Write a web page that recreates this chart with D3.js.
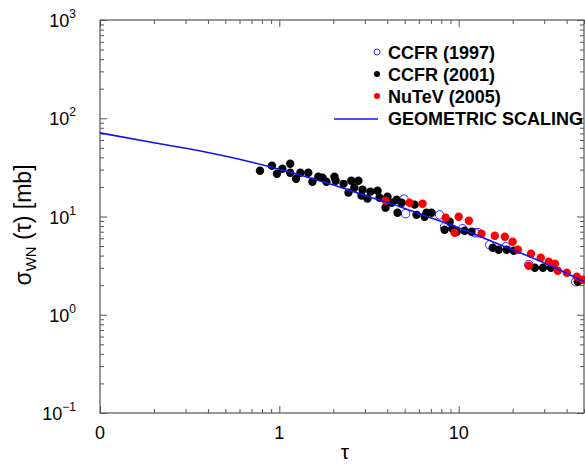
<!DOCTYPE html>
<html><head><meta charset="utf-8">
<script src="https://cdn.jsdelivr.net/npm/d3@7"></script>
<style>body{margin:0;background:#fff}svg{display:block}</style>
</head><body>
<svg id="c" width="585" height="468"></svg>
<script>
// ---- data ----
const ccfr2001Tau = [0.78,0.91,0.97,1.04,1.15,1.15,1.24,1.31,1.45,1.53,1.65,1.74,1.83,2.03,2.06,2.28,2.43,2.52,2.62,2.76,2.91,2.87,3.10,3.22,3.53,3.62,3.91,4.01,4.23,4.51,4.56,4.81,5.68,5.82,6.46,6.62,7.06,8.35,8.91,9.25,9.75,10.8,11.8,15.5,16.7,18.5,20.3,26.6,29.5,32.7,46.2];
const ccfr2001Sigma = [29.2,32.9,27.2,30.6,34.4,27.9,24.2,27.9,27.9,22.6,25.4,24.8,22.6,25.4,23.1,21.5,17.5,23.1,19.6,23.1,18.7,16.3,15.2,17.9,18.3,15.5,12.3,15.9,13.8,14.8,10.9,13.8,13.2,10.4,9.94,10.9,10.9,7.33,8.85,7.50,7.00,7.16,7.00,4.81,4.59,4.59,4.48,3.01,3.01,3.01,2.17];
const nutevTau = [3.91,5.32,6.29,8.46,10.0,11.4,9.50,13.4,15.9,18.1,20.0,21.4,25.3,28.7,24.6,31.8,34.4,35.7,40.1,45.6,49.3];
const nutevSigma = [14.5,13.8,13.5,9.71,9.94,9.06,6.84,6.67,6.37,6.22,5.53,4.59,4.18,3.80,3.15,3.46,3.30,2.80,2.68,2.44,2.27];
const ccfr1997Tau = [4.95,5.06,7.83,8.35,10.5,12.3,12.8,14.9,18.3,24.6,45.0];
const ccfr1997Sigma = [15.0,10.7,10.4,7.87,7.50,6.84,6.84,5.16,4.92,3.23,2.17];
const geoTau = [0.1,0.2,0.357,0.6,1,1.9,3,4.7,7,10,15,22,33,50];
const geoSigma = [71,56.3,46.7,38.2,30.2,21.5,16.4,12.6,9.69,7.68,5.67,4.28,3.12,2.17];
const xTickValues = [0.1,1,10];
const xTickLabels = ["0","1","10"];
const yTickValues = [0.1,1,10,100,1000];
const yTickExps = ["\u22121","0","1","2","3"];
const legendLabels = ["CCFR (1997)","CCFR (2001)","NuTeV (2005)","GEOMETRIC SCALING"];

// ---- layout ----
const L=100, R=584, T=20, B=413;
const svg = d3.select("#c");
const x = d3.scaleLog().domain([0.1,50]).range([L,R]);
const y = d3.scaleLog().domain([0.1,1000]).range([B,T]);
const frameColor = "#555";

const xMinor = [];
[0.1,1,10].forEach(d=>{for(let k=2;k<=9;k++){const v=k*d; if(v<=50) xMinor.push(v);}});
const yMinor = [];
[0.1,1,10,100].forEach(d=>{for(let k=2;k<=9;k++) yMinor.push(k*d);});

function styleAxis(g){
  g.select(".domain").remove();
  g.selectAll(".tick line").attr("stroke",frameColor).attr("stroke-width",1);
  g.selectAll(".tick text").remove();
}
svg.append("g").attr("transform",`translate(0,${B})`).call(d3.axisBottom(x).tickValues(xTickValues).tickSize(-7).tickSizeOuter(0)).call(styleAxis);
svg.append("g").attr("transform",`translate(0,${B})`).call(d3.axisBottom(x).tickValues(xMinor).tickSize(-4).tickSizeOuter(0)).call(styleAxis);
svg.append("g").attr("transform",`translate(0,${T})`).call(d3.axisTop(x).tickValues(xTickValues).tickSize(-7).tickSizeOuter(0)).call(styleAxis);
svg.append("g").attr("transform",`translate(0,${T})`).call(d3.axisTop(x).tickValues(xMinor).tickSize(-4).tickSizeOuter(0)).call(styleAxis);
svg.append("g").attr("transform",`translate(${L},0)`).call(d3.axisLeft(y).tickValues(yTickValues).tickSize(-7).tickSizeOuter(0)).call(styleAxis);
svg.append("g").attr("transform",`translate(${L},0)`).call(d3.axisLeft(y).tickValues(yMinor).tickSize(-4).tickSizeOuter(0)).call(styleAxis);
svg.append("g").attr("transform",`translate(${R},0)`).call(d3.axisRight(y).tickValues(yTickValues).tickSize(-7).tickSizeOuter(0)).call(styleAxis);
svg.append("g").attr("transform",`translate(${R},0)`).call(d3.axisRight(y).tickValues(yMinor).tickSize(-4).tickSizeOuter(0)).call(styleAxis);

svg.append("rect").attr("x",L).attr("y",T).attr("width",R-L).attr("height",B-T)
  .attr("fill","none").attr("stroke",frameColor).attr("stroke-width",1.2);

const font = "Liberation Sans, Arial, Helvetica, sans-serif";
svg.append("g").selectAll("text").data(xTickValues).join("text")
  .attr("x",d=>x(d)).attr("y",B+26).attr("text-anchor","middle")
  .attr("font-family",font).attr("font-size",18).attr("fill","#000")
  .text((d,i)=>xTickLabels[i]);
const yl = svg.append("g").selectAll("text").data(yTickValues).join("text")
  .attr("x",76).attr("y",d=>y(d)+7).attr("text-anchor","end")
  .attr("font-family",font).attr("font-size",18).attr("fill","#000");
yl.append("tspan").text("10");
yl.append("tspan").attr("dy",-9).attr("font-size",12).text((d,i)=>yTickExps[i]);

svg.append("text").attr("x",(L+R)/2+3).attr("y",459).attr("text-anchor","middle")
  .attr("font-family",font).attr("font-size",21).text("\u03c4");
const yt = svg.append("text").attr("transform","translate(31,225) rotate(-90)")
  .attr("text-anchor","middle").attr("font-family",font).attr("font-size",23);
yt.append("tspan").text("\u03c3");
yt.append("tspan").attr("font-size",15).attr("dy",5).text("WN");
yt.append("tspan").attr("dy",-5).text(" (\u03c4) [mb]");

svg.append("clipPath").attr("id","pc").append("rect")
  .attr("x",L).attr("y",T).attr("width",R-L+1).attr("height",B-T);
const pts = svg.append("g").attr("clip-path","url(#pc)");
pts.selectAll("circle.c97").data(ccfr1997Tau).join("circle").attr("class","c97")
  .attr("cx",d=>x(d)).attr("cy",(d,i)=>y(ccfr1997Sigma[i])).attr("r",4.3)
  .attr("fill","none").attr("stroke","#2e2eff").attr("stroke-width",1);
pts.selectAll("circle.c01").data(ccfr2001Tau).join("circle").attr("class","c01")
  .attr("cx",d=>x(d)).attr("cy",(d,i)=>y(ccfr2001Sigma[i])).attr("r",4.2)
  .attr("fill","#000");
pts.selectAll("circle.nu").data(nutevTau).join("circle").attr("class","nu")
  .attr("cx",d=>x(d)).attr("cy",(d,i)=>y(nutevSigma[i])).attr("r",4.2)
  .attr("fill","#ff0000");

const line = d3.line().x(d=>x(d[0])).y(d=>y(d[1])).curve(d3.curveMonotoneX);
pts.append("path").datum(geoTau.map((t,i)=>[t,geoSigma[i]]))
  .attr("d",line).attr("fill","none").attr("stroke","#1010ff").attr("stroke-width",1.6);

const lg = svg.append("g");
const rowsY = [52,74,96,118];
lg.append("circle").attr("cx",377).attr("cy",rowsY[0]).attr("r",3).attr("fill","none").attr("stroke","#2e2eff").attr("stroke-width",1);
lg.append("circle").attr("cx",377).attr("cy",rowsY[1]).attr("r",3).attr("fill","#000");
lg.append("circle").attr("cx",377).attr("cy",rowsY[2]).attr("r",3).attr("fill","#ff0000");
lg.append("line").attr("x1",334).attr("x2",378).attr("y1",rowsY[3]+1).attr("y2",rowsY[3]+1).attr("stroke","#1010ff").attr("stroke-width",1.6);
lg.selectAll("text").data(legendLabels).join("text")
  .attr("x",388).attr("y",(d,i)=>rowsY[i]+7).attr("font-family",font)
  .attr("font-weight","bold").attr("font-size",18).attr("fill","#000").text(d=>d);
</script>
</body></html>
